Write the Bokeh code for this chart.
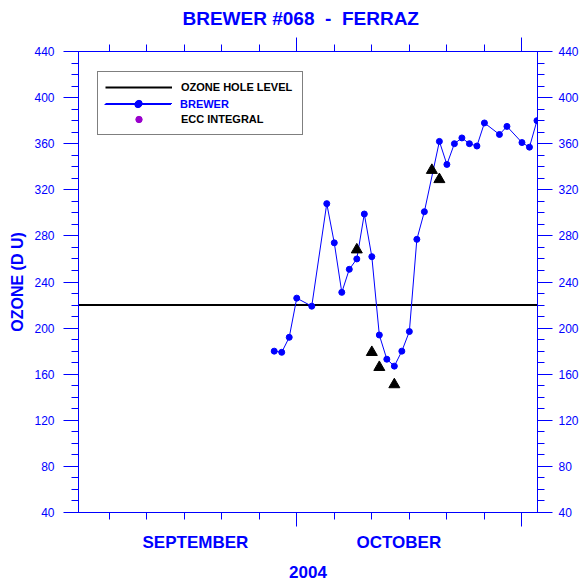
from bokeh.plotting import figure
from bokeh.models import (LinearAxis, FixedTicker, Range1d, Legend,
                          LegendItem)
from bokeh.embed import file_html
from bokeh.resources import INLINE

# x values: days since 1 September 2004 (30 = 1 October, 60 = 31 October)
brewer_day = [27, 28, 29, 30, 32, 34, 35, 36, 37, 38, 39, 40, 41, 42, 43, 44,
              45, 46, 47, 49, 50, 51, 52, 53, 54, 55, 57, 58, 60, 61, 62]
brewer_ozone = [180, 179, 192, 226, 219, 308, 274, 231, 251, 260, 299, 262,
                194, 173, 167, 180, 197, 277, 301, 362, 342, 360, 365, 360,
                358, 378, 368, 375, 361, 357, 380]

ecc_day = [38, 40, 41, 43, 48, 49]
ecc_ozone = [268, 179, 166, 151, 337, 329]

ozone_hole_level = 220

x_start, x_end = 0.93, 62.07
y_start, y_end = 40, 440
y_major_ticks = list(range(40, 441, 40))
y_minor_ticks = list(range(40, 441, 10))
x_month_ticks = [30, 60]
x_minor_ticks = list(range(5, 61, 5))
month_names = ["SEPTEMBER", "OCTOBER"]
month_label_day = [16.5, 43.6]
year_label = "2004"

BLUE = "#0000ff"
FONT = "Liberation Sans"
NAN = float("nan")

p = figure(width=582, height=586, output_backend="svg", toolbar_location=None,
           x_range=Range1d(x_start, x_end), y_range=Range1d(y_start, y_end),
           min_border_left=78, min_border_right=45, min_border_top=51,
           min_border_bottom=74)
p.background_fill_color = "white"
p.border_fill_color = "white"
p.outline_line_color = BLUE
p.xgrid.visible = False
p.ygrid.visible = False

# title
p.title.text = "BREWER #068 \u00a0-\u00a0 FERRAZ"
p.title.align = "left"
p.title.offset = 104
p.title.vertical_align = "top"
p.title.standoff = 13
p.title.text_font = FONT
p.title.text_font_size = "19px"
p.title.text_font_style = "bold"
p.title.text_color = BLUE


def style_tick_axis(ax, tick_out, minor_out):
    ax.axis_line_color = BLUE
    ax.major_tick_line_color = BLUE
    ax.minor_tick_line_color = BLUE
    ax.major_tick_in = 0
    ax.minor_tick_in = 0
    ax.major_tick_out = tick_out
    ax.minor_tick_out = minor_out


def hide_tick_labels(ax):
    ax.major_label_text_font_size = "1px"
    ax.major_label_text_color = None
    ax.major_label_standoff = 0


# bottom x axis (ticks only)
xb = p.below[0]
xb.ticker = FixedTicker(ticks=x_month_ticks, minor_ticks=x_minor_ticks)
style_tick_axis(xb, 14, 7)
hide_tick_labels(xb)

# top x axis (ticks only)
xt = LinearAxis(ticker=FixedTicker(ticks=x_month_ticks, minor_ticks=x_minor_ticks))
style_tick_axis(xt, 14, 7)
hide_tick_labels(xt)
p.add_layout(xt, "above")

# month names axis, with the year as its axis label
xm = LinearAxis(ticker=FixedTicker(ticks=month_label_day),
                major_label_overrides={d: n for d, n in zip(month_label_day, month_names)})
xm.axis_line_color = None
xm.major_tick_line_color = None
xm.minor_tick_line_color = None
xm.major_tick_out = 0
xm.major_tick_in = 0
xm.minor_tick_out = 0
xm.minor_tick_in = 0
xm.major_label_standoff = 6
xm.major_label_text_font = FONT
xm.major_label_text_font_size = "17px"
xm.major_label_text_font_style = "bold"
xm.major_label_text_color = BLUE
xm.axis_label = year_label
xm.axis_label_standoff = 11
xm.axis_label_text_font = FONT
xm.axis_label_text_font_size = "17px"
xm.axis_label_text_font_style = "bold"
xm.axis_label_text_color = BLUE
p.add_layout(xm, "below")

# left y axis
yl = p.left[0]
yl.ticker = FixedTicker(ticks=y_major_ticks, minor_ticks=y_minor_ticks)
style_tick_axis(yl, 15, 7)
yl.major_label_standoff = 9
yl.major_label_text_font = FONT
yl.major_label_text_font_size = "12px"
yl.major_label_text_color = BLUE
yl.axis_label = "OZONE (D U)"
yl.axis_label_standoff = 5
yl.axis_label_text_font = FONT
yl.axis_label_text_font_size = "16px"
yl.axis_label_text_font_style = "bold"
yl.axis_label_text_color = BLUE

# right y axis
yr = LinearAxis(ticker=FixedTicker(ticks=y_major_ticks, minor_ticks=y_minor_ticks))
style_tick_axis(yr, 15, 7)
yr.major_label_standoff = 6
yr.major_label_text_font = FONT
yr.major_label_text_font_size = "12px"
yr.major_label_text_color = BLUE
p.add_layout(yr, "right")

# ozone hole level across the whole x range
hole = p.line([x_start, x_end], [ozone_hole_level, ozone_hole_level],
              line_color="black", line_width=2)

# data
br_line = p.line(brewer_day, brewer_ozone, line_color=BLUE, line_width=1)
br_pts = p.scatter(brewer_day, brewer_ozone, marker="circle", size=6,
                   fill_color=BLUE, line_color=BLUE)
ecc_pts = p.scatter(ecc_day, ecc_ozone, marker="triangle", size=11,
                    fill_color="black", line_color="black")

# legend sample for ECC integral (dots, as in the key)
ecc_sample = p.scatter([NAN], [NAN], marker="circle", size=4,
                       fill_color="#9900cc", line_color="#9900cc")

LEG_X, LEG_Y, PAD, GW, GH, STAND = 19, 377, 7, 67, 16, 9


def style_legend(leg, pad):
    leg.orientation = "vertical"
    leg.padding = pad
    leg.spacing = 0
    leg.margin = 0
    leg.glyph_width = GW
    leg.glyph_height = GH
    leg.label_height = GH
    leg.label_standoff = STAND
    leg.label_text_font = FONT
    leg.label_text_font_size = "11px"
    leg.label_text_font_style = "bold"
    leg.label_text_baseline = "middle"


leg = Legend(items=[LegendItem(label="OZONE HOLE LEVEL", renderers=[hole]),
                    LegendItem(label=" ", renderers=[br_line, br_pts]),
                    LegendItem(label="ECC INTEGRAL", renderers=[ecc_sample])])
style_legend(leg, PAD)
leg.location = (LEG_X, LEG_Y)
leg.label_width = 114
leg.label_text_color = "black"
leg.border_line_color = "black"
leg.border_line_width = 1
leg.background_fill_color = "white"
leg.background_fill_alpha = 1
p.add_layout(leg)

# second, frameless key over the BREWER row so that its label can be blue
leg_b = Legend(items=[LegendItem(label="BREWER", renderers=[br_line, br_pts])])
style_legend(leg_b, 0)
leg_b.location = (LEG_X + PAD, LEG_Y + PAD + GH)
leg_b.label_text_color = BLUE
leg_b.border_line_color = None
leg_b.background_fill_alpha = 0
p.add_layout(leg_b)

open("out.html", "w").write(file_html(p, INLINE))
